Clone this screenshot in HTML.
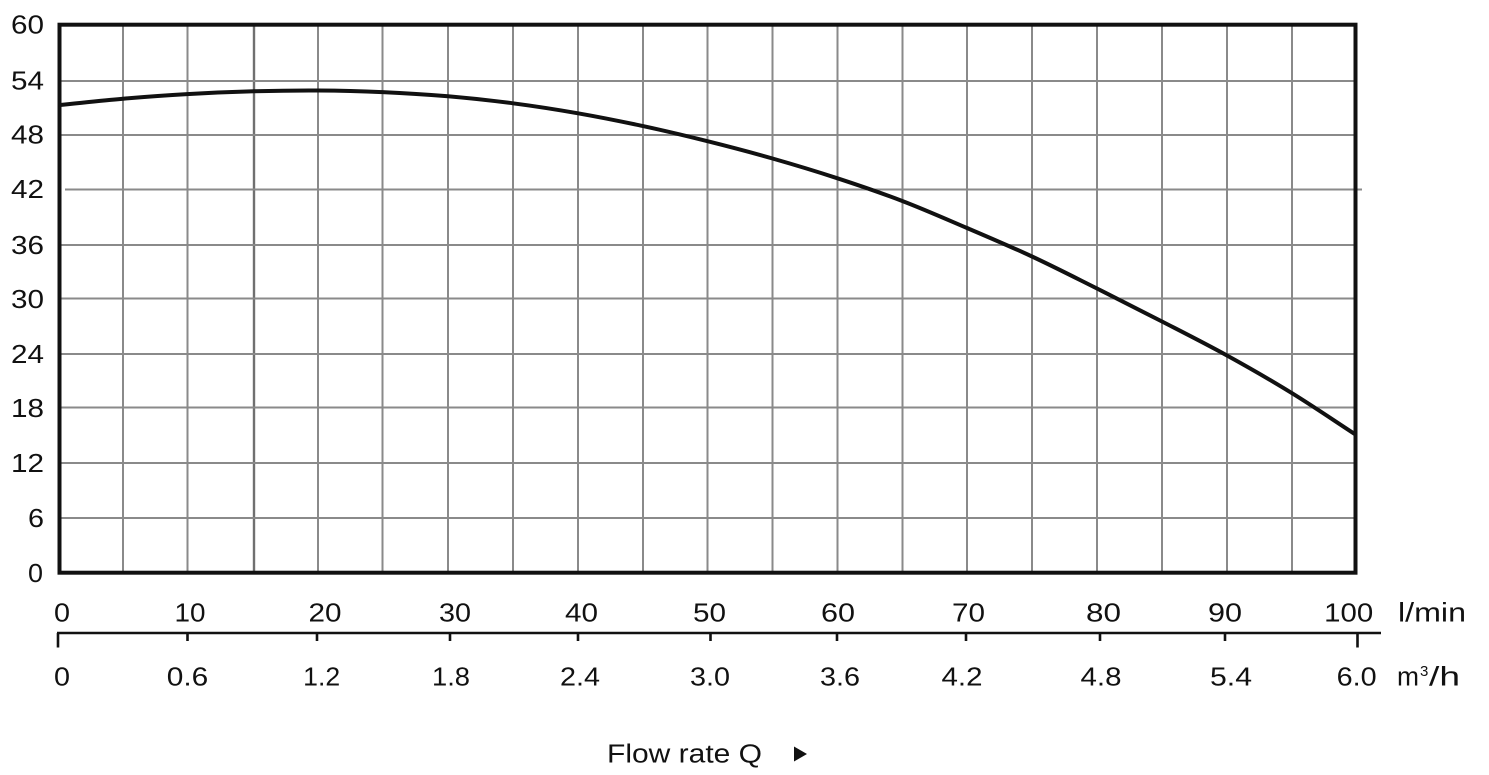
<!DOCTYPE html>
<html><head><meta charset="utf-8"><style>
html,body{margin:0;padding:0;background:#fff;}
svg{display:block;}
text{font-family:"Liberation Sans",sans-serif;fill:#111;}
</style></head><body>
<svg width="1489" height="775" viewBox="0 0 1489 775" xmlns="http://www.w3.org/2000/svg">
<g stroke="#8a8a8a" stroke-width="2">
<line x1="123" y1="25" x2="123" y2="573"/>
<line x1="187.5" y1="25" x2="187.5" y2="573"/>
<line x1="254" y1="25" x2="254" y2="573" stroke="#707070" stroke-width="2.4"/>
<line x1="318" y1="25" x2="318" y2="573"/>
<line x1="382.5" y1="25" x2="382.5" y2="573"/>
<line x1="448" y1="25" x2="448" y2="573"/>
<line x1="513" y1="25" x2="513" y2="573"/>
<line x1="578" y1="25" x2="578" y2="573"/>
<line x1="643" y1="25" x2="643" y2="573"/>
<line x1="707.5" y1="25" x2="707.5" y2="573"/>
<line x1="772.5" y1="25" x2="772.5" y2="573"/>
<line x1="837.5" y1="25" x2="837.5" y2="573"/>
<line x1="902.5" y1="25" x2="902.5" y2="573"/>
<line x1="967" y1="25" x2="967" y2="573"/>
<line x1="1032" y1="25" x2="1032" y2="573"/>
<line x1="1097" y1="25" x2="1097" y2="573"/>
<line x1="1162" y1="25" x2="1162" y2="573"/>
<line x1="1227" y1="25" x2="1227" y2="573"/>
<line x1="1292" y1="25" x2="1292" y2="573"/>
<line x1="60" y1="81" x2="1355" y2="81"/>
<line x1="60" y1="135" x2="1355" y2="135"/>
<line x1="65" y1="189.5" x2="1362" y2="189.5"/>
<line x1="60" y1="245" x2="1355" y2="245"/>
<line x1="60" y1="298.5" x2="1355" y2="298.5"/>
<line x1="60" y1="354" x2="1355" y2="354"/>
<line x1="60" y1="407.5" x2="1355" y2="407.5"/>
<line x1="60" y1="463" x2="1355" y2="463"/>
<line x1="60" y1="518" x2="1355" y2="518"/>
</g>
<rect x="59.5" y="24.7" width="1296" height="548" fill="none" stroke="#111" stroke-width="4"/>
<path fill="none" stroke="#111" stroke-width="4" stroke-linecap="round"
d="M60,105 C81,102.9 101.8,100.52 123,98.7 S165.2,95.33 187,94.1 S232.2,91.9 254,91.3 S296.6,90.37 318,90.5 S360.8,91.13 382.5,92.1 S426.25,94.43 448,96.3 S491.3,100.47 513,103.3 S556.3,109.5 578,113.3 S621.5,121.47 643,126.1 S685.4,135.7 707,141.1 S750.75,152.3 772.5,158.5 S815.8,171.2 837.5,178.3 S881,192.82 902.6,201.1 S945.4,218.77 967,228 S1010.3,246.42 1032,256.5 S1075.3,277.67 1097,288.5 S1140.3,310.33 1162,321.5 S1205.3,343.55 1227,355.5 S1270.7,380.08 1292,393.2 S1334,420.5 1355,434.2"/>
<g font-size="25.5" text-anchor="end">
<text x="44" y="33.3" textLength="33" lengthAdjust="spacingAndGlyphs">60</text>
<text x="44" y="89.3" textLength="33" lengthAdjust="spacingAndGlyphs">54</text>
<text x="44" y="143.7" textLength="33" lengthAdjust="spacingAndGlyphs">48</text>
<text x="44" y="198.2" textLength="33" lengthAdjust="spacingAndGlyphs">42</text>
<text x="44" y="254.2" textLength="33" lengthAdjust="spacingAndGlyphs">36</text>
<text x="44" y="308.2" textLength="33" lengthAdjust="spacingAndGlyphs">30</text>
<text x="44" y="363.2" textLength="33" lengthAdjust="spacingAndGlyphs">24</text>
<text x="44" y="417.2" textLength="33" lengthAdjust="spacingAndGlyphs">18</text>
<text x="44" y="472.2" textLength="33" lengthAdjust="spacingAndGlyphs">12</text>
<text x="44" y="527.2" textLength="16" lengthAdjust="spacingAndGlyphs">6</text>
<text x="43" y="582.2" textLength="15" lengthAdjust="spacingAndGlyphs">0</text>
</g>
<line x1="57" y1="633" x2="1381" y2="633" stroke="#111" stroke-width="2.4"/>
<g stroke="#111" stroke-width="2.6">
<line x1="58" y1="633" x2="58" y2="647.5"/>
<line x1="187.5" y1="633" x2="187.5" y2="641"/>
<line x1="317" y1="633" x2="317" y2="641"/>
<line x1="450" y1="633" x2="450" y2="641"/>
<line x1="578" y1="633" x2="578" y2="641"/>
<line x1="710.5" y1="633" x2="710.5" y2="641"/>
<line x1="837" y1="633" x2="837" y2="641"/>
<line x1="966" y1="633" x2="966" y2="641"/>
<line x1="1100" y1="633" x2="1100" y2="641"/>
<line x1="1225" y1="633" x2="1225" y2="641"/>
<line x1="1357.5" y1="633" x2="1357.5" y2="647.5"/>
</g>
<g font-size="25.5" text-anchor="middle">
<text x="62" y="621.7" textLength="16" lengthAdjust="spacingAndGlyphs">0</text>
<text x="190" y="621.7" textLength="31" lengthAdjust="spacingAndGlyphs">10</text>
<text x="325" y="621.7" textLength="33" lengthAdjust="spacingAndGlyphs">20</text>
<text x="455" y="621.7" textLength="32" lengthAdjust="spacingAndGlyphs">30</text>
<text x="581.5" y="621.7" textLength="33" lengthAdjust="spacingAndGlyphs">40</text>
<text x="709.5" y="621.7" textLength="33" lengthAdjust="spacingAndGlyphs">50</text>
<text x="838" y="621.7" textLength="34" lengthAdjust="spacingAndGlyphs">60</text>
<text x="968.5" y="621.7" textLength="33" lengthAdjust="spacingAndGlyphs">70</text>
<text x="1103.5" y="621.7" textLength="35" lengthAdjust="spacingAndGlyphs">80</text>
<text x="1225" y="621.7" textLength="34" lengthAdjust="spacingAndGlyphs">90</text>
<text x="1348.7" y="621.7" textLength="49" lengthAdjust="spacingAndGlyphs">100</text>
<text x="62" y="685.7" textLength="16" lengthAdjust="spacingAndGlyphs">0</text>
<text x="187.5" y="685.7" textLength="41.5" lengthAdjust="spacingAndGlyphs">0.6</text>
<text x="321.7" y="685.7" textLength="37" lengthAdjust="spacingAndGlyphs">1.2</text>
<text x="451" y="685.7" textLength="38" lengthAdjust="spacingAndGlyphs">1.8</text>
<text x="580" y="685.7" textLength="40" lengthAdjust="spacingAndGlyphs">2.4</text>
<text x="710" y="685.7" textLength="40" lengthAdjust="spacingAndGlyphs">3.0</text>
<text x="840" y="685.7" textLength="40" lengthAdjust="spacingAndGlyphs">3.6</text>
<text x="962" y="685.7" textLength="41" lengthAdjust="spacingAndGlyphs">4.2</text>
<text x="1101" y="685.7" textLength="41" lengthAdjust="spacingAndGlyphs">4.8</text>
<text x="1231" y="685.7" textLength="42" lengthAdjust="spacingAndGlyphs">5.4</text>
<text x="1356.7" y="685.7" textLength="40" lengthAdjust="spacingAndGlyphs">6.0</text>
</g>
<text x="1398" y="621.7" font-size="27" textLength="68" lengthAdjust="spacingAndGlyphs">l/min</text>
<text x="1397" y="685.7" font-size="25.5" textLength="22" lengthAdjust="spacingAndGlyphs">m</text>
<text x="1420" y="676" font-size="15">3</text>
<text x="1429" y="685.7" font-size="27" textLength="31" lengthAdjust="spacingAndGlyphs">/h</text>
<text x="607" y="762.5" font-size="25.5" textLength="155" lengthAdjust="spacingAndGlyphs">Flow rate Q</text>
<polygon points="794,746.5 807,754 794,761.5" fill="#111"/>
</svg>
</body></html>
